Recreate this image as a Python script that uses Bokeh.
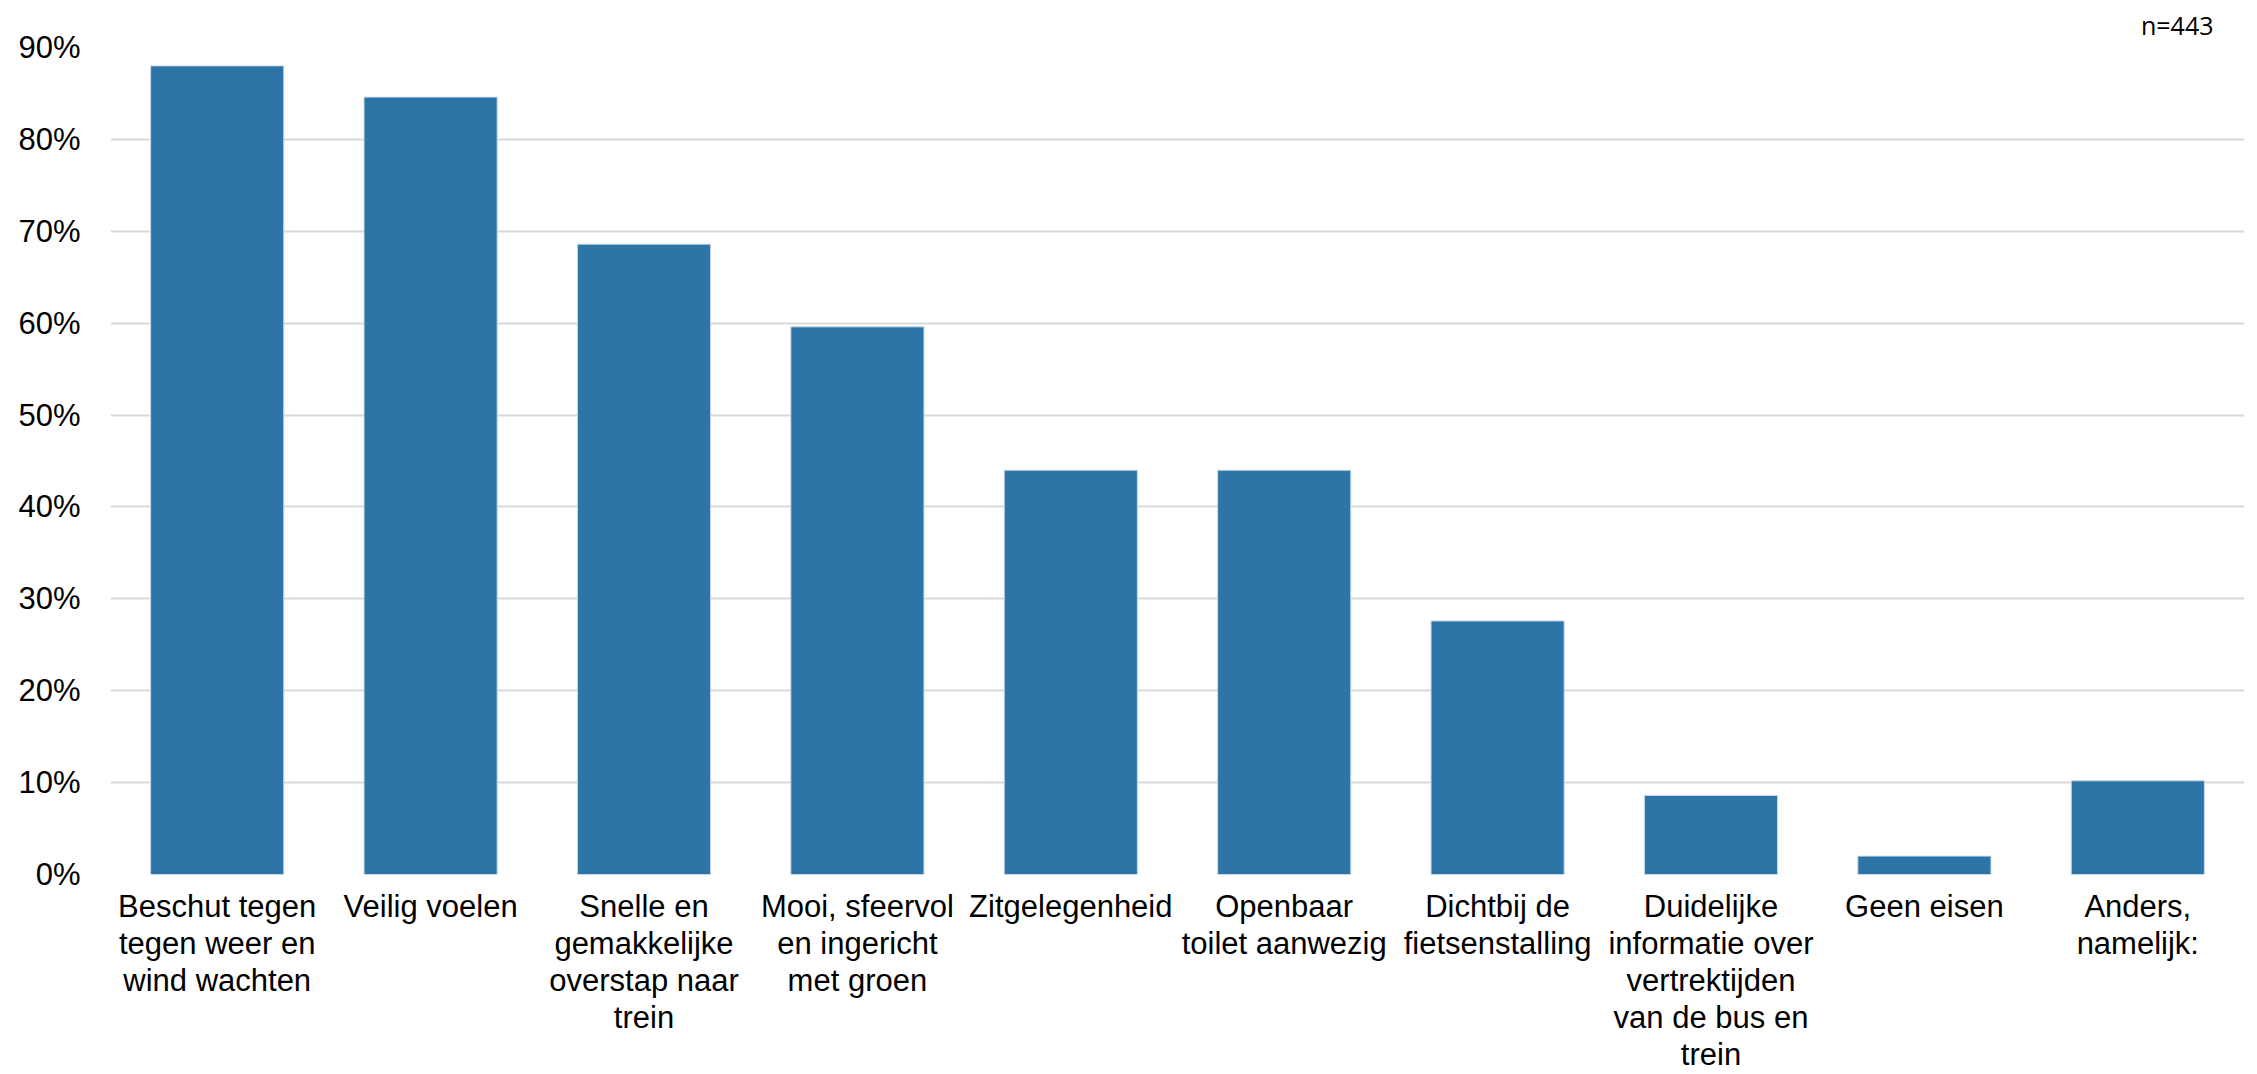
from bokeh.plotting import figure
from bokeh.models import FactorRange, Range1d, NumeralTickFormatter, FixedTicker, ColumnDataSource
from bokeh.embed import file_html
from bokeh.resources import INLINE

categories = [
    "Beschut tegen\ntegen weer en\nwind wachten",
    "Veilig voelen",
    "Snelle en\ngemakkelijke\noverstap naar\ntrein",
    "Mooi, sfeervol\nen ingericht\nmet groen",
    "Zitgelegenheid",
    "Openbaar\ntoilet aanwezig",
    "Dichtbij de\nfietsenstalling",
    "Duidelijke\ninformatie over\nvertrektijden\nvan de bus en\ntrein",
    "Geen eisen",
    "Anders,\nnamelijk:",
]
values = [0.880, 0.846, 0.686, 0.596, 0.440, 0.440, 0.276, 0.086, 0.020, 0.102]
y_ticks = [0.0, 0.1, 0.2, 0.3, 0.4, 0.5, 0.6, 0.7, 0.8, 0.9]
note = "n=443"

src = ColumnDataSource(dict(cat=categories, val=values))

p = figure(
    x_range=FactorRange(*categories, range_padding=0),
    y_range=Range1d(0, 0.9),
    width=2257, height=1074,
    output_backend="svg", toolbar_location=None,
    min_border_left=110, min_border_right=13,
    min_border_top=45, min_border_bottom=200,
    title=note,
)
p.outline_line_color = None
p.background_fill_color = "white"
p.border_fill_color = "white"

p.title.align = "right"
p.title.offset = 31
p.title.standoff = 11
p.title.text_font = "Open Sans"
p.title.text_font_size = "25px"
p.title.text_font_style = "normal"
p.title.text_color = "#000000"

p.vbar(x="cat", top="val", width=0.624, source=src,
       fill_color="#2E75A7", line_color="#c9d9e8", line_width=1)

p.xgrid.grid_line_color = None
p.ygrid.grid_line_color = "#d9d9d9"
p.ygrid.grid_line_width = 2
p.ygrid.ticker = FixedTicker(ticks=y_ticks)

p.yaxis.ticker = FixedTicker(ticks=y_ticks)
p.yaxis.formatter = NumeralTickFormatter(format="0%")
p.yaxis.axis_line_color = None
p.yaxis.major_tick_line_color = None
p.yaxis.minor_tick_line_color = None
p.yaxis.major_tick_out = 0
p.yaxis.major_tick_in = 0
p.yaxis.major_label_text_font = "Liberation Sans"
p.yaxis.major_label_text_font_size = "31px"
p.yaxis.major_label_text_color = "#000000"
p.yaxis.major_label_standoff = 30

p.xaxis.axis_line_color = None
p.xaxis.major_tick_line_color = None
p.xaxis.minor_tick_line_color = None
p.xaxis.major_tick_out = 0
p.xaxis.major_tick_in = 0
p.xaxis.major_label_text_font = "Liberation Sans"
p.xaxis.major_label_text_font_size = "31px"
p.xaxis.major_label_text_color = "#000000"
p.xaxis.major_label_text_line_height = 1.06
p.xaxis.major_label_standoff = 14

open("out.html", "w").write(file_html(p, INLINE))
